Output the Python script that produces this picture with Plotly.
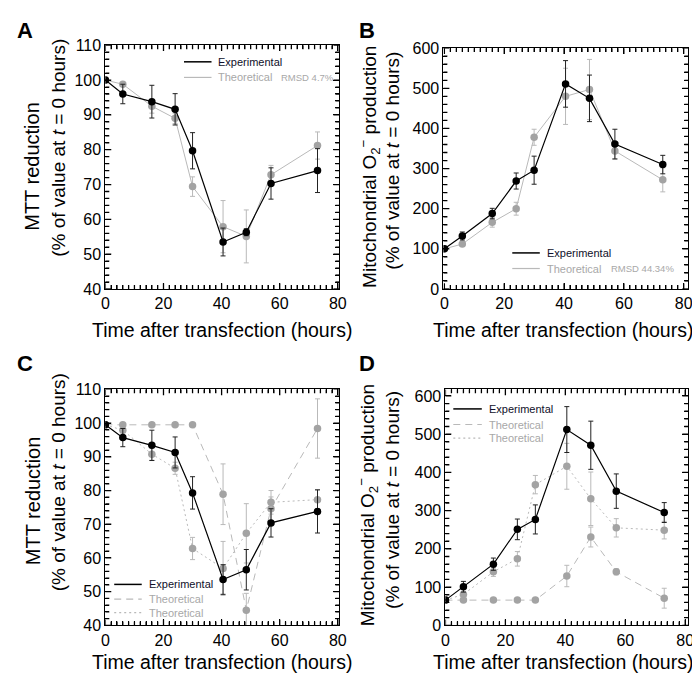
import numpy as np
import plotly.graph_objects as go

# ---------------- data ----------------
t = [0, 6, 16, 24, 30, 40.5, 48.5, 57, 73]

A_exp = [100, 96.0, 93.8, 91.6, 79.7, 53.5, 56.3, 70.3, 74.0]
A_exp_err = [0, 2.8, 4.7, 4.5, 5.2, 4.0, 1.0, 4.5, 6.3]
A_th = [100, 98.8, 92.5, 89.0, 69.4, 57.9, 55.1, 72.8, 81.2]
A_th_err = [0, 0.5, 2.0, 1.5, 2.8, 7.5, 7.6, 2.7, 3.9]

B_exp = [100, 132, 188, 269, 296, 511, 475, 361, 310]
B_exp_err = [0, 10, 13, 20, 35, 58, 58, 37, 23]
B_th = [100, 112, 166, 200, 378, 480, 497, 344, 272]
B_th_err = [0, 5, 12, 16, 20, 70, 75, 20, 30]

C_exp = [99.5, 95.7, 93.4, 91.3, 79.3, 53.6, 56.5, 70.4, 73.8]
C_exp_err = [0, 2.7, 4.5, 4.6, 4.8, 4.4, 6.0, 4.2, 6.4]
C_dash = [99.5, 99.5, 99.5, 99.5, 99.5, 78.9, 44.5, 74.6, 98.4]
C_dash_err = [0, 0, 0, 0, 0, 9.0, 5.0, 3.5, 8.8]
C_dot = [99.5, 97.9, 90.8, 86.6, 62.8, 56.9, 67.3, 76.5, 77.3]
C_dot_err = [0, 0.8, 1.8, 1.8, 3.3, 8.0, 8.8, 3.5, 2.9]

D_exp = [66, 101, 160, 251, 277, 512, 471, 351, 295]
D_exp_err = [0, 14, 16, 27, 38, 60, 63, 45, 26]
D_dash = [66, 66, 66, 66, 66, 129, 231, 140, 71]
D_dash_err = [0, 0, 0, 0, 0, 28, 26, 8, 26]
D_dot = [66, 81, 140, 174, 368, 416, 331, 255, 249]
D_dot_err = [0, 8, 12, 19, 24, 60, 70, 24, 23]

x_major = [0, 20, 40, 60, 80]
x_minor = list(np.arange(0, 81, 2))
mtt_major = [40, 50, 60, 70, 80, 90, 100, 110]
mtt_minor = list(np.arange(40, 111, 2))
o2_major = [0, 100, 200, 300, 400, 500, 600]
o2_minor = list(np.arange(0, 601, 20))

legend_exp = "Experimental"
legend_th = "Theoretical"
rmsd_A = "RMSD 4.7%"
rmsd_B = "RMSD 44.34%"

# ---------------- style ----------------
W, H = 700, 679
FONT = "Liberation Sans, Arial, sans-serif"
BLACK = "#000000"
GRAY_M = "#a3a3a3"
GRAY_L = "#b9b9b9"
GRAY_T = "#a8a8a8"
DASH = "7px,5px"
DOT = "2px,3px"
MAJ, MIN, TW = 6, 4, 1.3

fig = go.Figure()


def px_x(p):
    return p / W


def px_y(p):
    return 1 - p / H


def add_series(y, err, xa, ya, color, lcolor, ecolor, dash="solid", lw=1.0):
    fig.add_trace(go.Scatter(
        x=t, y=y, xaxis=xa, yaxis=ya, mode="lines+markers",
        line=dict(color=lcolor, width=lw, dash=dash),
        marker=dict(color=color, size=7.5),
        error_y=dict(type="data", array=err, visible=True, color=ecolor,
                     thickness=1, width=2.5),
        showlegend=False, hoverinfo="x+y"))


# Panel A
add_series(A_th, A_th_err, "x", "y", GRAY_M, GRAY_L, GRAY_L)
add_series(A_exp, A_exp_err, "x", "y", BLACK, BLACK, "#222222", lw=1.2)
# Panel B
add_series(B_th, B_th_err, "x2", "y2", GRAY_M, GRAY_L, GRAY_L)
add_series(B_exp, B_exp_err, "x2", "y2", BLACK, BLACK, "#222222", lw=1.2)
# Panel C
add_series(C_dash, C_dash_err, "x3", "y3", GRAY_M, GRAY_L, GRAY_L, dash=DASH)
add_series(C_dot, C_dot_err, "x3", "y3", GRAY_M, GRAY_L, GRAY_L, dash=DOT)
add_series(C_exp, C_exp_err, "x3", "y3", BLACK, BLACK, "#222222", lw=1.2)
# Panel D
add_series(D_dash, D_dash_err, "x4", "y4", GRAY_M, GRAY_L, GRAY_L, dash=DASH)
add_series(D_dot, D_dot_err, "x4", "y4", GRAY_M, GRAY_L, GRAY_L, dash=DOT)
add_series(D_exp, D_exp_err, "x4", "y4", BLACK, BLACK, "#222222", lw=1.2)


def axis(domain, rng, ticks, minor_ticks, anchor):
    return dict(domain=domain, range=rng, anchor=anchor, tickmode="array",
                tickvals=ticks,
                showline=True, linecolor="black", linewidth=1, mirror="ticks",
                ticks="inside", ticklen=MAJ, tickcolor="black", tickwidth=TW,
                minor=dict(tickmode="array", tickvals=minor_ticks,
                           ticks="inside", ticklen=MIN, tickcolor="black",
                           tickwidth=TW),
                showgrid=False, zeroline=False,
                tickfont=dict(family=FONT, size=16, color=BLACK))


XL = (95, 333)
XR2 = (439, 688)
XR4 = (441, 688)
YT = (30, 280)
YT2 = (33, 280)
YB = (383, 625)


def dom_x(a):
    return [px_x(a[0]), px_x(a[1])]


def dom_y(a):
    return [px_y(a[1]), px_y(a[0])]


fig.update_layout(
    width=W, height=H, margin=dict(l=0, r=0, t=0, b=0),
    paper_bgcolor="white", plot_bgcolor="white",
    font=dict(family=FONT, color=BLACK), showlegend=False,
    xaxis=axis(dom_x(XL), [0, 80.5], x_major, x_minor, "y"),
    yaxis=axis(dom_y(YT), [40, 110], mtt_major, mtt_minor, "x"),
    xaxis2=axis(dom_x(XR2), [-0.3, 81.5], x_major, x_minor, "y2"),
    yaxis2=axis(dom_y(YT2), [0, 600], o2_major, o2_minor, "x2"),
    xaxis3=axis(dom_x(XL), [0, 80.5], x_major, x_minor, "y3"),
    yaxis3=axis(dom_y(YB), [40, 110], mtt_major, mtt_minor, "x3"),
    xaxis4=axis(dom_x(XR4), [0, 81], x_major, x_minor, "y4"),
    yaxis4=axis(dom_y(YB), [0, 617], o2_major, o2_minor, "x4"),
)

ann = []
shapes = []


def add_ticks(xa, ya, xr, yr, xmaj, xmin, ymaj, ymin):
    wpx = xr[1] - xr[0]
    hpx = yr[1] - yr[0]
    for v in xmin:
        ln = (MAJ if v in xmaj else MIN) / hpx
        for y0, y1 in ((0, ln), (1, 1 - ln)):
            shapes.append(dict(type="line", xref=xa, yref=ya + " domain",
                               x0=v, x1=v, y0=y0, y1=y1, layer="above",
                               line=dict(color=BLACK, width=TW)))
    for v in ymin:
        ln = (MAJ if v in ymaj else MIN) / wpx
        for x0, x1 in ((0, ln), (1, 1 - ln)):
            shapes.append(dict(type="line", xref=xa + " domain", yref=ya,
                               x0=x0, x1=x1, y0=v, y1=v, layer="above",
                               line=dict(color=BLACK, width=TW)))


add_ticks("x", "y", XL, YT, x_major, x_minor, mtt_major, mtt_minor)
add_ticks("x2", "y2", XR2, YT2, x_major, x_minor, o2_major, o2_minor)
add_ticks("x3", "y3", XL, YB, x_major, x_minor, mtt_major, mtt_minor)
add_ticks("x4", "y4", XR4, YB, x_major, x_minor, o2_major, o2_minor)


def text(s, x, y, size=20, angle=0, bold=False, anchor="center", color=BLACK):
    ann.append(dict(text=("<b>%s</b>" % s) if bold else s, x=px_x(x), y=px_y(y),
                    xref="paper", yref="paper", showarrow=False,
                    textangle=angle, xanchor=anchor, yanchor="middle",
                    font=dict(family=FONT, size=size, color=color)))


def legend_row(x0, x1, y, label, color, tcolor, dash, lw):
    shapes.append(dict(type="line", xref="paper", yref="paper",
                       x0=px_x(x0), x1=px_x(x1), y0=px_y(y), y1=px_y(y),
                       line=dict(color=color, width=lw, dash=dash)))
    text(label, x1 + 5, y, 11, anchor="left", color=tcolor)


# legends
legend_row(175, 203, 47, legend_exp, BLACK, "#10102a", "solid", 1.5)
legend_row(175, 203, 63, legend_th, GRAY_L, GRAY_T, "solid", 1.2)
text(rmsd_A, 272, 63, 9.5, anchor="left", color=GRAY_T)

legend_row(509, 537, 243, legend_exp, BLACK, "#10102a", "solid", 1.5)
legend_row(509, 537, 259, legend_th, GRAY_L, GRAY_T, "solid", 1.2)
text(rmsd_B, 607, 259, 9.5, anchor="left", color=GRAY_T)

legend_row(104, 132, 583, legend_exp, BLACK, "#10102a", "solid", 1.5)
legend_row(104, 132, 598, legend_th, GRAY_L, GRAY_T, DASH, 1.2)
legend_row(104, 132, 612, legend_th, GRAY_L, GRAY_T, DOT, 1.2)

legend_row(449, 478, 403, legend_exp, BLACK, "#10102a", "solid", 1.5)
legend_row(449, 478, 419, legend_th, GRAY_L, GRAY_T, DASH, 1.2)
legend_row(449, 478, 433, legend_th, GRAY_L, GRAY_T, DOT, 1.2)

# panel letters
text("A", 13, 15, 22, bold=True)
text("B", 361, 15, 22, bold=True)
text("C", 13, 356, 22, bold=True)
text("D", 361, 356, 22, bold=True)

xt = "Time after transfection (hours)"
text(xt, 214, 322, 19.5)
text(xt, 561, 322, 19.5)
text(xt, 214, 663, 19.5)
text(xt, 561, 663, 19.5)

l2 = "(% of value at <i>t</i> = 0 hours)"
o2 = "Mitochondrial O<sub>2</sub><sup>\u2212</sup> production"
text("MTT reduction", 21, 154, angle=-90)
text(l2, 47, 135, 19, angle=-90)
text(o2, 363, 155, 19, angle=-90)
text(l2, 387, 148, 19, angle=-90)
text("MTT reduction", 21, 497, angle=-90)
text(l2, 47, 478, 19, angle=-90)
text(o2, 362, 502, 19, angle=-90)
text(l2, 387, 496, 19, angle=-90)

fig.update_layout(annotations=ann, shapes=shapes)

fig.write_html("out.html")
